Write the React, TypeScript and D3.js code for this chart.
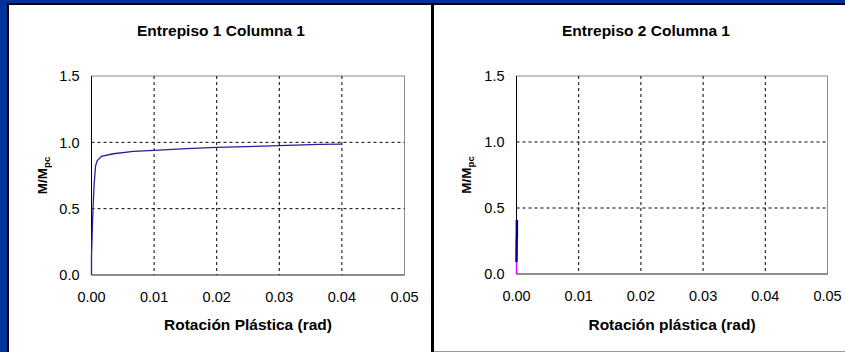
import React from "react";
import * as d3 from "d3";

const xTicks = [0, 0.01, 0.02, 0.03, 0.04, 0.05];
const yTicks = [0, 0.5, 1.0, 1.5];

const rot1 = [0, 0, 0.00016, 0.0004, 0.00064, 0.0009, 0.0016, 0.0035, 0.0067, 0.01, 0.0152, 0.02, 0.03, 0.0363, 0.04];
const m1 = [0, 0.14, 0.395, 0.667, 0.82, 0.86, 0.894, 0.914, 0.932, 0.94, 0.952, 0.962, 0.975, 0.985, 0.987];

const rot2 = [0, 0.00003, 0.00005, 0.00006];
const m2 = [0.09, 0.27, 0.28, 0.41];
const rot2b = [0, 0];
const m2b = [0, 0.09];

const titles = ["Entrepiso 1 Columna 1", "Entrepiso 2 Columna 1"];
const xTitles = ["Rotación Plástica (rad)", "Rotación plástica (rad)"];

type PanelProps = {
  x0: number; x1: number; y0: number; y1: number;
  titleX: number; yTitleX: number; title: string; xTitle: string;
  series: { xs: number[]; ys: number[]; color: string; width: number }[];
};

function Panel(p: PanelProps) {
  const x = d3.scaleLinear().domain([0, 0.05]).range([p.x0, p.x1]);
  const y = d3.scaleLinear().domain([0, 1.5]).range([p.y1, p.y0]);
  const line = d3.line<[number, number]>().x(d => x(d[0])).y(d => y(d[1]));
  const font = "'Liberation Sans', Arial, sans-serif";
  return (
    <g>
      <rect x={p.x0} y={p.y0} width={p.x1 - p.x0} height={p.y1 - p.y0} fill="#fff" stroke="#8c8c8c" strokeWidth={1} />
      {xTicks.slice(1, -1).map(t => (
        <line key={"gx" + t} x1={x(t)} x2={x(t)} y1={p.y0} y2={p.y1} stroke="#000" strokeWidth={1} strokeDasharray="3,3" />
      ))}
      {yTicks.slice(1, -1).map(t => (
        <line key={"gy" + t} x1={p.x0} x2={p.x1} y1={y(t)} y2={y(t)} stroke="#000" strokeWidth={1} strokeDasharray="3,3" />
      ))}
      <line x1={p.x0} x2={p.x0} y1={p.y0} y2={p.y1} stroke="#000" strokeWidth={1} />
      <line x1={p.x0} x2={p.x1} y1={p.y1} y2={p.y1} stroke="#555" strokeWidth={1.2} />
      {p.series.map((s, i) => (
        <path key={i} d={line(s.xs.map((v, j) => [v, s.ys[j]]) as [number, number][]) || ""} fill="none" stroke={s.color} strokeWidth={s.width} />
      ))}
      {yTicks.map(t => (
        <text key={"ty" + t} x={p.x0 - 12} y={y(t)} dy="0.36em" textAnchor="end" fontFamily={font} fontSize={14.5} fill="#000">{t.toFixed(1)}</text>
      ))}
      {xTicks.map(t => (
        <text key={"tx" + t} x={x(t)} y={p.y1 + 27} textAnchor="middle" fontFamily={font} fontSize={14.5} fill="#000">{t.toFixed(2)}</text>
      ))}
      <text x={p.titleX} y={36} textAnchor="middle" fontFamily={font} fontSize={15.5} fontWeight="bold" fill="#000">{p.title}</text>
      <text x={(p.x0 + p.x1) / 2} y={330} textAnchor="middle" fontFamily={font} fontSize={15.5} fontWeight="bold" fill="#000">{p.xTitle}</text>
      <text transform={`translate(${p.yTitleX},${(p.y0 + p.y1) / 2}) rotate(-90)`} textAnchor="middle" fontFamily={font} fontSize={13.5} fontWeight="bold" fill="#000">
        M/M<tspan fontSize={9.5} dy={3}>pc</tspan>
      </text>
    </g>
  );
}

export default function App() {
  return (
    <svg width={845} height={352} style={{ position: "absolute", left: 0, top: 0 }}>
      <rect x={0} y={0} width={845} height={352} fill="#003399" />
      <rect x={7} y={3} width={838} height={349} fill="#000" />
      <rect x={9} y={5} width={422} height={347} fill="#fff" />
      <rect x={434} y={5} width={411} height={346} fill="#fff" />
      <line x1={434} x2={845} y1={351.5} y2={351.5} stroke="#999" />
      <Panel x0={91.5} x1={404.5} y0={76} y1={275} titleX={221} yTitleX={47} title={titles[0]} xTitle={xTitles[0]}
        series={[{ xs: rot1, ys: m1, color: "#22229a", width: 1.3 }]} />
      <Panel x0={516.5} x1={827.5} y0={76} y1={274} titleX={646} yTitleX={471} title={titles[1]} xTitle={xTitles[1]}
        series={[{ xs: rot2b, ys: m2b, color: "#ff00ff", width: 1.5 }, { xs: rot2, ys: m2, color: "#000080", width: 2.5 }]} />
    </svg>
  );
}
